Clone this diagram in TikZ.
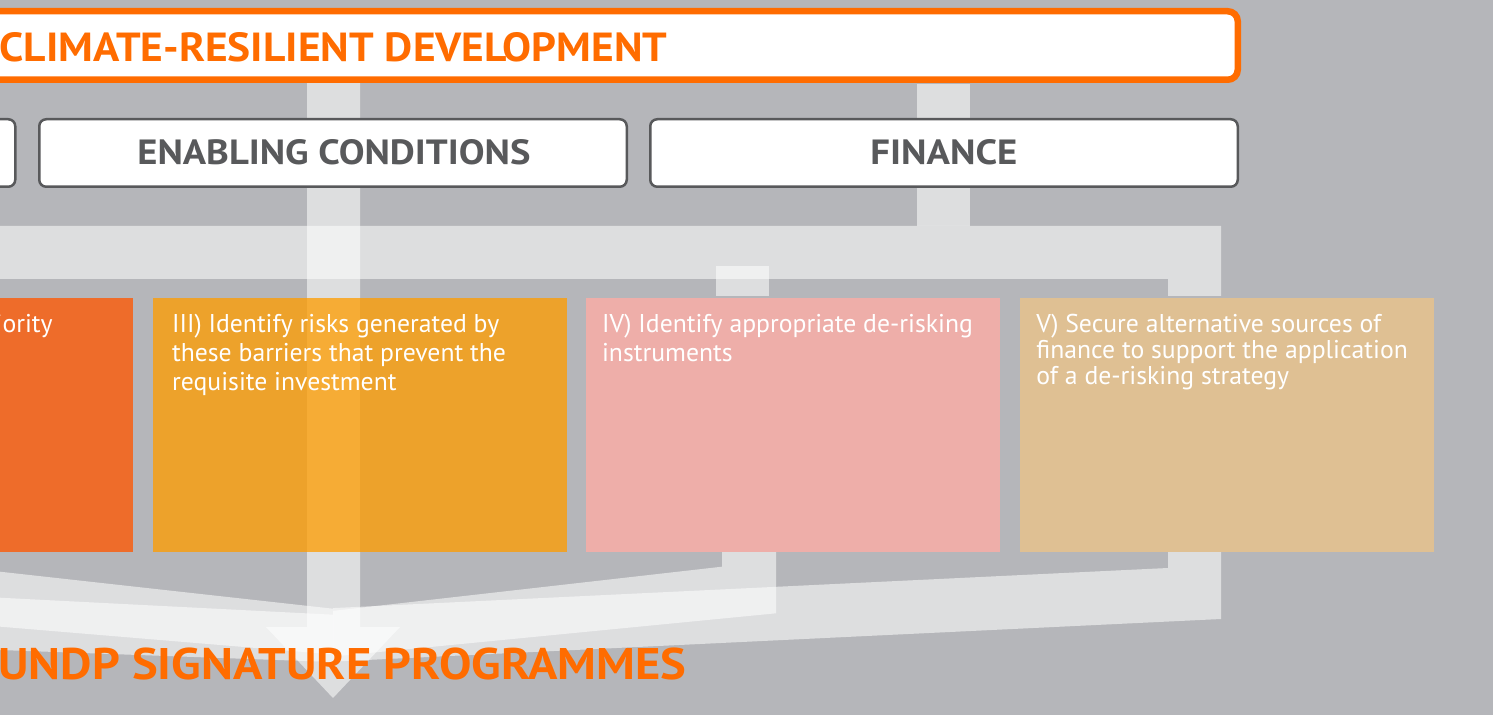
\documentclass[tikz,border=0pt]{standalone}
\usepackage{fontspec}
\setmainfont{PT Sans}
\usepackage{graphicx}
\definecolor{bg}{HTML}{B5B6BA}
\definecolor{orangeT}{HTML}{FF6C00}
\definecolor{boxgray}{HTML}{58595B}
\definecolor{ctwo}{HTML}{EE6C2A}
\definecolor{cthree}{HTML}{EDA22B}
\definecolor{cthreehl}{HTML}{F6AC35}
\definecolor{cfour}{HTML}{EEAEA9}
\definecolor{cfive}{HTML}{DFC093}
\begin{document}
\begin{tikzpicture}[x=0.5pt,y=-0.5pt,
  band/.style={fill=white,fill opacity=0.55},
  topbox/.style={draw=boxgray,line width=1.25pt,fill=white,rounded corners=3.5pt},
  body/.style={font=\fontsize{12.85}{14.5}\selectfont,text=white,inner sep=0pt,anchor=base west},
  title/.style={inner sep=0pt,anchor=base west,font=\bfseries}]
\useasboundingbox (0,0) rectangle (1493,715);
\fill[bg] (0,0) rectangle (1493,715);
\clip (0,0) rectangle (1493,715);
% translucent connector bands
\fill[band] (-20,226) -- (1221,226) -- (1221,296) -- (1168,296) -- (1168,279) -- (-20,279) -- cycle;
\fill[band] (917,84) rectangle (970,226);
\fill[band] (716,266) rectangle (769,296);
\fill[band] (-20,596.7) -- (333,614.7) -- (333,662) -- (-20,649.3) -- cycle;
\fill[band] (-20,569.5) -- (333,608.7) -- (333,654.4) -- (-20,625) -- cycle;
\fill[band] (722,552) -- (776,552) -- (776,613.3) -- (333,656.5) -- (333,610.9) -- (722,566.7) -- cycle;
\fill[band] (1168,552) -- (1221,552) -- (1221,619) -- (333,661.6) -- (333,608.1) -- (1168,568) -- cycle;
\fill[band] (307,82) -- (360,82) -- (360,627) -- (400,627) -- (333,698) -- (266,627) -- (307,627) -- cycle;
% coloured step boxes
\fill[ctwo] (-40,298) rectangle (133,552);
\fill[cthree] (153,298) rectangle (567,552);
\fill[cthreehl] (307,298) rectangle (360,552);
\fill[cfour] (586,298) rectangle (1000,552);
\fill[cfive] (1020,298) rectangle (1434,552);
\node[body,anchor=base east] (t2a) at (53,333) {iority};
\node[body] (t3a) at (171.7,333) {III) Identify risks generated by};
\node[body] (t3b) at (171.7,362) {these barriers that prevent the};
\node[body] (t3c) at (171.7,391) {requisite investment};
\node[body] (t4a) at (601.7,333) {IV) Identify appropriate de-risking};
\node[body] (t4b) at (601.7,362) {instruments};
\node[body] (t5a) at (1036,333) {V) Secure alternative sources of};
\node[body] (t5b) at (1036,359) {finance to support the application};
\node[body] (t5c) at (1036,385) {of a de-risking strategy};
% top boxes
\draw[line width=3.25pt,draw=orangeT,fill=white,rounded corners=5pt] (-40,11.25) rectangle (1237.75,79.75);
\node[title,text=orangeT] (climate) at (-1,62) {\resizebox{334pt}{14.5pt}{CLIMATE-RESILIENT DEVELOPMENT}};
\draw[topbox] (-40,119.25) rectangle (15.25,186.75);
\draw[topbox] (39.25,119.25) rectangle (626.75,186.75);
\draw[topbox] (650.25,119.25) rectangle (1237.75,186.75);
\node[title,text=boxgray] (enabling) at (137,165) {\resizebox{196.5pt}{12.5pt}{ENABLING CONDITIONS}};
\node[title,text=boxgray] (finance) at (870,165) {\resizebox{73.5pt}{12.5pt}{FINANCE}};
% bottom title
\node[title,text=orangeT] (undp) at (-2,679) {\resizebox{344pt}{15.8pt}{UNDP SIGNATURE PROGRAMMES}};
\end{tikzpicture}
\end{document}
